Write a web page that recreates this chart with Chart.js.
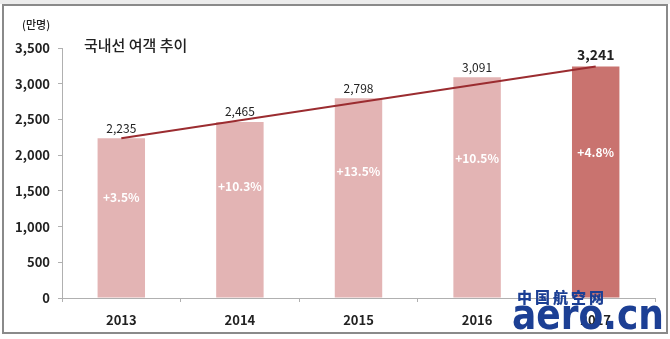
<!DOCTYPE html>
<html>
<head>
<meta charset="utf-8">
<script src="https://cdn.jsdelivr.net/npm/chart.js@4"></script>
<style>
  body { margin: 0; background: #fff; }
  #wrap { position: relative; width: 670px; height: 339px; overflow: hidden; }
  #strip { position: absolute; left: 0; top: 0; width: 670px; height: 4px; background: #ececec; }
  #frame { position: absolute; left: 2px; top: 4px; width: 662px; height: 326px; border: 2px solid #8a8a8a; }
  #chart { position: absolute; left: 0; top: 0; }
  .txt { position: absolute; font-family: "Noto Sans CJK KR", sans-serif; color: #222; white-space: nowrap; line-height: 1; }
  #unit { left: 22px; top: 19px; font-size: 11px; font-weight: 500; }
  #title { left: 84px; top: 37px; font-size: 15px; font-weight: 500; }
  #wm1 { left: 517px; top: 289px; font-size: 15px; font-weight: 900; color: #1c3f94; letter-spacing: 3px; font-family: "Noto Sans CJK SC", sans-serif; }
  #wm2 { left: 512px; top: 293px; font-size: 34px; font-weight: bold; color: #1c3f94; font-family: "DejaVu Sans", sans-serif; transform: scale(1.06, 1.25); transform-origin: left top; }
</style>
</head>
<body>
<div id="wrap">
  <div id="strip"></div>
  <div id="frame"></div>
  <canvas id="chart" width="670" height="339"></canvas>
  <div class="txt" id="unit">(만명)</div>
  <div class="txt" id="title">국내선 여객 추이</div>
  <div class="txt" id="wm1">中国航空网</div>
  <div class="txt" id="wm2">aero.cn</div>
</div>
<script>
// 국내선 여객 (만명)
const years = ['2013', '2014', '2015', '2016', '2017'];
const passengers = [2235, 2465, 2798, 3091, 3241];
const growth = ['+3.5%', '+10.3%', '+13.5%', '+10.5%', '+4.8%'];
const trend = [2235, null, null, null, 3241];
const yTicks = [0, 500, 1000, 1500, 2000, 2500, 3000, 3500];

const lightBar = '#e3b4b4';
const darkBar = '#c9736f';
const fontFamily = '"Noto Sans CJK KR", sans-serif';

const barLabels = {
    id: 'barLabels',
    afterDatasetsDraw(chart) {
        const ctx = chart.ctx;
        const meta = chart.getDatasetMeta(1);
        ctx.save();
        ctx.textAlign = 'center';
        ctx.textBaseline = 'middle';
        meta.data.forEach((bar, i) => {
            const last = i === passengers.length - 1;
            ctx.fillStyle = '#222';
            ctx.font = last ? 'bold 14px ' + fontFamily : '12px ' + fontFamily;
            ctx.fillText(passengers[i].toLocaleString('en-US'), bar.x, bar.y - (last ? 12 : 10));
            ctx.fillStyle = '#ffffff';
            ctx.font = 'bold 12px ' + fontFamily;
            ctx.fillText(growth[i], bar.x, bar.y + (bar.base - bar.y) * 0.37);
        });
        ctx.restore();
    }
};

new Chart(document.getElementById('chart'), {
    data: {
        labels: years,
        datasets: [
            {
                type: 'line',
                data: trend,
                spanGaps: true,
                borderColor: '#9b2c30',
                borderWidth: 2,
                pointRadius: 0,
                order: 0
            },
            {
                type: 'bar',
                data: passengers,
                backgroundColor: passengers.map((v, i) => i === passengers.length - 1 ? darkBar : lightBar),
                barPercentage: 0.4,
                categoryPercentage: 1,
                order: 1
            }
        ]
    },
    options: {
        responsive: false,
        animation: false,
        layout: { padding: { top: 48, right: 15, bottom: 7, left: 0 } },
        plugins: { legend: { display: false }, tooltip: { enabled: false } },
        scales: {
            x: {
                offset: true,
                grid: { offset: true, drawOnChartArea: false, drawTicks: true, tickLength: 4, color: '#b0b0b0' },
                border: { color: '#b0b0b0' },
                ticks: { color: '#222', padding: 10, font: { family: fontFamily, size: 13, weight: 'bold' } },
                afterFit(scale) { scale.height = 34; }
            },
            y: {
                min: 0,
                max: 3500,
                afterBuildTicks(scale) { scale.ticks = yTicks.map(v => ({ value: v })); },
                grid: { drawOnChartArea: false, drawTicks: true, tickLength: 4, color: '#b0b0b0' },
                border: { color: '#b0b0b0' },
                ticks: {
                    color: '#222',
                    padding: 8,
                    font: { family: fontFamily, size: 13, weight: 'bold' },
                    callback: v => v.toLocaleString('en-US')
                },
                afterFit(scale) { scale.width = 62; }
            }
        }
    },
    plugins: [barLabels]
});
</script>
</body>
</html>
